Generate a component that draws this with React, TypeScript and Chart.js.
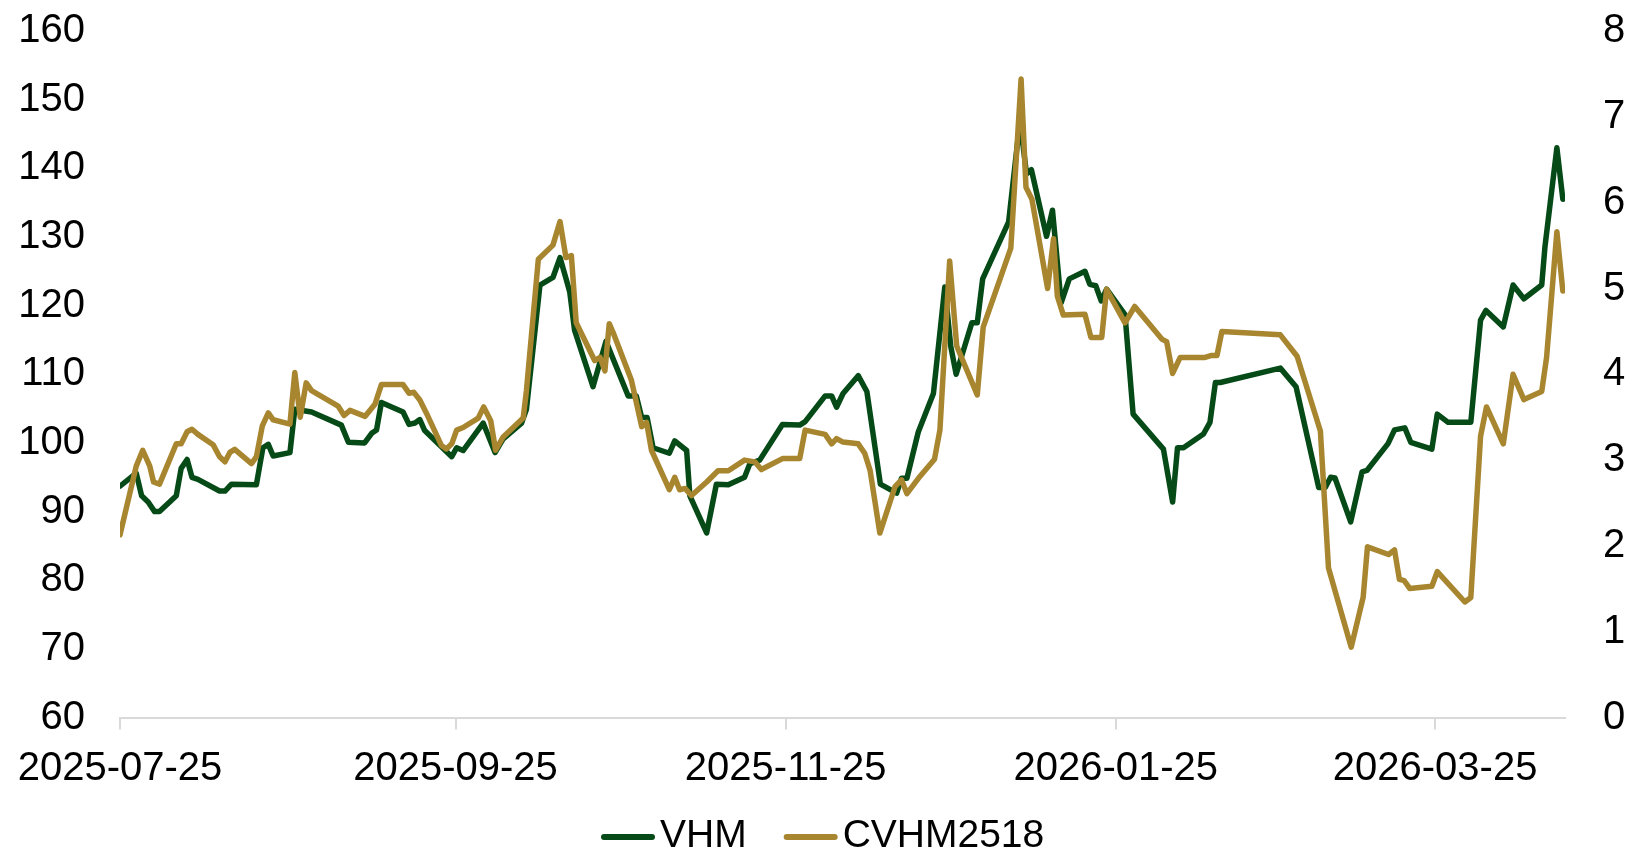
import React, { useEffect, useRef } from "react";
import { Chart, registerables } from "chart.js";

Chart.register(...registerables);

// Day offsets counted from 2025-07-25
const START_UTC = Date.UTC(2025, 6, 25);
const xTickDays = [0, 62, 123, 184, 243];

const seriesNames = ["VHM", "CVHM2518"];

const vhmDays = [
  0, 3.0, 4.0, 5.2, 6.4, 7.3, 10.4, 11.3, 12.4, 13.3, 14.4, 18.4, 19.4, 20.6, 25.2, 26.4, 27.4, 28.3,
  31.4, 32.3, 35.4, 40.9, 42.2, 45.2, 46.5, 47.4, 48.3, 52.3, 53.4, 54.5, 55.4, 56.3, 61.3, 62.2, 63.4,
  67.1, 69.3, 70.8, 74.2, 75.1, 77.6, 80.0, 81.3, 82.5, 83.1, 84.0, 87.4, 88.7, 89.8, 93.9, 95.4, 96.4,
  97.4, 98.5, 101.5, 102.5, 104.7, 105.3, 108.4, 110.2, 112.4, 115.4, 116.4, 118.2, 122.4, 125.6, 126.6,
  130.3, 131.5, 132.4, 133.6, 136.4, 138.0, 140.5, 143.5, 144.4, 145.4, 147.5, 150.3, 152.4, 153.5,
  154.5, 157.4, 158.4, 159.4, 164.2, 166.3, 167.5, 168.4, 171.2, 172.3, 173.9, 175.4, 178.3, 179.2,
  180.3, 181.3, 182.3, 185.7, 187.2, 192.8, 194.5, 195.4, 196.5, 200.2, 201.4, 202.4, 203.3, 214.4,
  217.3, 221.5, 222.7, 223.7, 224.5, 227.4, 229.5, 230.4, 234.3, 235.5, 237.4, 238.5, 242.4, 243.4,
  245.4, 249.6, 251.4, 252.4, 255.6, 257.4, 259.4, 262.7, 263.3, 265.5, 266.6,
];
const vhmValues = [
  93.7, 95.6, 92.3, 91.4, 90.0, 90.0, 92.3, 96.3, 97.6, 95.0, 94.7, 93.0, 93.0, 94.0, 93.9, 99.3, 99.8, 98.1,
  98.6, 104.9, 104.5, 102.6, 100.1, 100.0, 101.4, 101.9, 105.9, 104.5, 102.7, 102.9, 103.4, 101.8, 98.0, 99.3, 98.9,
  102.9, 98.6, 100.6, 102.9, 104.9, 123.0, 124.1, 127.0, 123.7, 122.0, 116.4, 108.2, 111.8, 114.8, 106.85, 106.85, 103.7,
  103.7, 99.3, 98.5, 100.3, 98.9, 92.3, 86.9, 94.0, 93.9, 95.0, 97.0, 97.5, 102.7, 102.6, 103.1,
  106.85, 106.85, 105.2, 107.2, 109.8, 107.5, 94.0, 92.7, 94.85, 94.85, 101.6, 107.2, 122.7, 114.1,
  110.0, 117.5, 117.5, 123.9, 132.2, 147.0, 139.2, 139.8, 130.1, 133.9, 120.4, 123.9, 125.0, 123.1,
  122.9, 120.7, 122.4, 118.7, 104.2, 99.1, 91.4, 99.3, 99.3, 101.3, 103.0, 108.8, 108.8, 110.9,
  108.2, 93.5, 93.5, 95.0, 94.9, 88.5, 95.8, 96.0, 99.9, 101.9, 102.2, 100.1, 99.1, 104.2,
  103.0, 103.0, 117.9, 119.3, 116.9, 123.0, 121.0, 123.0, 128.6, 143.0, 135.5,
];

const cwDays = [
  0, 3.0, 4.2, 5.5, 6.2, 7.3, 10.4, 11.3, 12.4, 13.3, 14.4, 17.2, 18.4, 19.4, 20.3, 21.2, 24.3, 25.2,
  26.3, 27.4, 28.3, 31.4, 32.3, 33.3, 34.4, 35.4, 40.3, 41.4, 42.5, 45.3, 47.1, 48.3, 52.3, 53.4, 54.3,
  55.4, 56.6, 59.4, 60.3, 61.3, 62.2, 63.4, 66.2, 67.2, 68.5, 69.4, 70.8, 74.5, 75.1, 77.3, 80.0, 81.3,
  82.4, 83.4, 84.3, 87.7, 88.7, 89.6, 90.4, 91.1, 94.5, 96.4, 97.3, 98.2, 101.5, 102.5, 103.4, 104.4,
  105.6, 108.4, 110.5, 112.4, 115.4, 117.3, 118.5, 122.5, 125.6, 126.6, 130.3, 131.5, 132.4, 133.6,
  136.4, 137.6, 138.6, 140.4, 143.2, 144.4, 145.4, 147.8, 150.5, 151.5, 153.3, 154.6, 158.4, 159.5,
  164.6, 166.5, 167.4, 168.5, 171.4, 172.5, 173.2, 174.3, 178.3, 179.4, 181.4, 182.3, 185.7, 187.5,
  192.5, 193.4, 194.5, 195.9, 200.5, 201.7, 202.7, 203.6, 214.4, 217.5, 221.8, 223.3, 227.5, 229.7,
  230.5, 234.4, 235.5, 236.4, 237.3, 238.3, 242.4, 243.4, 248.5, 249.6, 251.4, 252.5, 255.6, 257.4,
  259.4, 262.7, 263.6, 265.5, 266.6,
];
const cwValues = [
  2.13, 2.93, 3.115, 2.93, 2.745, 2.72, 3.19, 3.19, 3.33, 3.36, 3.30, 3.18, 3.04, 2.98, 3.09, 3.126, 2.96, 3.04,
  3.40, 3.55, 3.47, 3.42, 4.02, 3.50, 3.90, 3.81, 3.63, 3.52, 3.58, 3.51, 3.65, 3.88, 3.88, 3.78, 3.79,
  3.70, 3.55, 3.17, 3.13, 3.19, 3.35, 3.38, 3.49, 3.62, 3.46, 3.115, 3.27, 3.49, 3.81, 5.34, 5.505, 5.78,
  5.36, 5.384, 4.60, 4.16, 4.197, 4.04, 4.59, 4.49, 3.93, 3.39, 3.44, 3.115, 2.655, 2.80, 2.655, 2.67,
  2.587, 2.745, 2.877, 2.877, 3.0, 2.98, 2.89, 3.02, 3.02, 3.35, 3.30, 3.19, 3.25, 3.21,
  3.19, 3.08, 2.88, 2.15, 2.69, 2.77, 2.61, 2.81, 3.01, 3.35, 5.32, 4.33, 3.76, 4.55,
  5.47, 7.44, 6.18, 6.04, 5.00, 5.58, 4.91, 4.69, 4.70, 4.43, 4.43, 4.99, 4.60, 4.79,
  4.41, 4.38, 4.01, 4.197, 4.197, 4.22, 4.22, 4.50, 4.46, 4.21, 3.34, 1.743, 0.82, 1.40,
  1.99, 1.90, 1.954, 1.61, 1.595, 1.505, 1.53, 1.70, 1.347, 1.40, 3.28, 3.62, 3.19, 4.00,
  3.705, 3.80, 4.197, 5.66, 4.97,
];

const FONT_FAMILY = '"Liberation Sans", Arial, Helvetica, sans-serif';
const GREEN = "#054A17";
const GOLD = "#A8862F";
const AXIS_GRAY = "#D9D9D9";

function dayToLabel(v: number): string {
  return new Date(START_UTC + v * 86400000).toISOString().slice(0, 10);
}

const legendPlugin = {
  id: "customLegend",
  afterDraw(chart: any) {
    const ctx = chart.ctx as CanvasRenderingContext2D;
    ctx.save();
    ctx.font = `39px ${FONT_FAMILY}`;
    ctx.textBaseline = "alphabetic";
    ctx.textAlign = "left";
    let x = 601;
    const yLine = 837;
    const yText = 847;
    chart.data.datasets.forEach((ds: any) => {
      ctx.strokeStyle = ds.borderColor;
      ctx.lineWidth = 6;
      ctx.lineCap = "round";
      ctx.beginPath();
      ctx.moveTo(x + 3, yLine);
      ctx.lineTo(x + 51, yLine);
      ctx.stroke();
      x += 59;
      ctx.fillStyle = "#000";
      ctx.fillText(ds.label, x, yText);
      x += ctx.measureText(ds.label).width + 37;
    });
    ctx.restore();
  },
};

export default function App() {
  const ref = useRef<HTMLCanvasElement>(null);

  useEffect(() => {
    document.body.style.margin = "0";
    const canvas = ref.current;
    if (!canvas) return;
    const tickFont = { family: FONT_FAMILY, size: 40 };
    const chart = new Chart(canvas, {
      type: "line",
      data: {
        datasets: [
          {
            label: seriesNames[0],
            data: vhmDays.map((d, i) => ({ x: d, y: vhmValues[i] })),
            borderColor: GREEN,
            backgroundColor: GREEN,
            borderWidth: 5.5,
            pointRadius: 0,
            tension: 0,
            borderJoinStyle: "round",
            borderCapStyle: "round",
            yAxisID: "y",
            order: 1,
          },
          {
            label: seriesNames[1],
            data: cwDays.map((d, i) => ({ x: d, y: cwValues[i] })),
            borderColor: GOLD,
            backgroundColor: GOLD,
            borderWidth: 5.5,
            pointRadius: 0,
            tension: 0,
            borderJoinStyle: "round",
            borderCapStyle: "round",
            yAxisID: "y1",
            order: 0,
          },
        ],
      },
      options: {
        responsive: false,
        animation: false,
        events: [],
        layout: { padding: { top: 31, bottom: 61.4, left: 0, right: 0 } },
        plugins: {
          legend: { display: false },
          tooltip: { enabled: false },
        },
        scales: {
          x: {
            type: "linear",
            min: 0,
            max: 267,
            afterBuildTicks: (scale: any) => {
              scale.ticks = xTickDays.map((v) => ({ value: v }));
            },
            afterFit: (scale: any) => {
              scale.height = 70;
              scale.paddingLeft = 0;
              scale.paddingRight = 0;
            },
            ticks: {
              autoSkip: false,
              maxRotation: 0,
              padding: 15,
              color: "#000",
              font: tickFont,
              callback: (v: any) => dayToLabel(Number(v)),
            },
            grid: {
              drawOnChartArea: false,
              drawTicks: true,
              tickLength: 12,
              color: AXIS_GRAY,
              lineWidth: 2,
            },
            border: { display: true, color: AXIS_GRAY, width: 2 },
          },
          y: {
            position: "left",
            min: 60,
            max: 160,
            afterFit: (scale: any) => {
              scale.width = 120;
              scale.paddingTop = 0;
              scale.paddingBottom = 0;
            },
            ticks: { stepSize: 10, padding: 35, color: "#000", font: tickFont },
            grid: { display: false, drawTicks: false },
            border: { display: false },
          },
          y1: {
            position: "right",
            min: 0,
            max: 8,
            afterFit: (scale: any) => {
              scale.width = 61;
              scale.paddingTop = 0;
              scale.paddingBottom = 0;
            },
            ticks: { stepSize: 1, padding: 38, color: "#000", font: tickFont },
            grid: { display: false, drawTicks: false },
            border: { display: false },
          },
        },
      },
      plugins: [legendPlugin],
    } as any);
    return () => chart.destroy();
  }, []);

  return (
    <div style={{ width: 1626, height: 849, background: "#fff" }}>
      <canvas ref={ref} width={1626} height={849} style={{ display: "block" }} />
    </div>
  );
}
